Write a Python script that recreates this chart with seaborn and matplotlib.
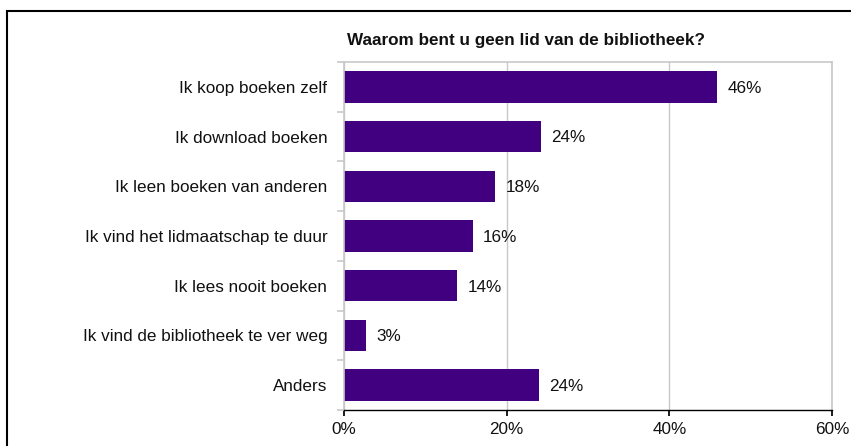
import matplotlib
matplotlib.use("Agg")
import matplotlib.pyplot as plt
import matplotlib.patches as mpatches
from matplotlib.ticker import FuncFormatter
import seaborn as sns
import pandas as pd

categories = [
    "Ik koop boeken zelf",
    "Ik download boeken",
    "Ik leen boeken van anderen",
    "Ik vind het lidmaatschap te duur",
    "Ik lees nooit boeken",
    "Ik vind de bibliotheek te ver weg",
    "Anders",
]
values = [45.9, 24.2, 18.6, 15.8, 13.9, 2.7, 24.0]
labels = ["46%", "24%", "18%", "16%", "14%", "3%", "24%"]
xticks = [0, 20, 40, 60]

title = "Waarom bent u geen lid van de bibliotheek?"
bar_color = "#400080"
fs = 12.3

sns.set_theme(style="white")
plt.rcParams["font.family"] = ["Liberation Sans", "DejaVu Sans"]

W, H = 851, 446
fig = plt.figure(figsize=(W / 100, H / 100), dpi=100)
ax = fig.add_axes([344 / W, 1 - 410 / H, (832 - 344) / W, (410 - 62) / H])

df = pd.DataFrame({"reden": categories, "pct": values})
sns.barplot(data=df, x="pct", y="reden", color=bar_color, saturation=1,
            width=0.63, linewidth=0, ax=ax)

ax.set_xlim(0, 60)
ax.set_ylim(len(categories) - 0.5, -0.5)
ax.set_xticks(xticks)
ax.xaxis.set_major_formatter(FuncFormatter(lambda v, p: f"{v:.0f}%"))
ax.set_xlabel("")
ax.set_ylabel("")
ax.grid(axis="x", color="#c8c8c8", linewidth=1)
ax.set_axisbelow(True)

for side in ["top", "right", "left"]:
    ax.spines[side].set_color("#c8c8c8")
    ax.spines[side].set_linewidth(1.2)
ax.spines["bottom"].set_color("black")
ax.spines["bottom"].set_linewidth(1)

ax.tick_params(axis="x", bottom=True, length=4, color="black", labelsize=fs,
               pad=5, labelcolor="#111111")
ax.tick_params(axis="y", left=False, length=0, labelsize=fs, pad=12,
               labelcolor="#111111")
# gray separator ticks between the categories on the left axis
ax.set_yticks([i + 0.5 for i in range(-1, len(categories))], minor=True)
ax.tick_params(axis="y", which="minor", left=True, length=5, color="#c8c8c8", width=1.2)

for i, (v, lab) in enumerate(zip(values, labels)):
    ax.annotate(lab, (v, i), xytext=(7.5, -1), textcoords="offset points",
                va="center", ha="left", fontsize=fs, color="#111111")

fig.text(526 / W, 1 - 41 / H, title, ha="center", va="center",
         fontsize=fs, fontweight="bold", color="#111111")

# outer chart frame (left and top edges visible)
fig.patches.append(mpatches.Rectangle((7 / W, -0.1), 1.0, 1 - 11 / H + 0.1,
                                      transform=fig.transFigure, fill=False,
                                      edgecolor="black", linewidth=1.5))

fig.savefig("out.png", dpi=100)
